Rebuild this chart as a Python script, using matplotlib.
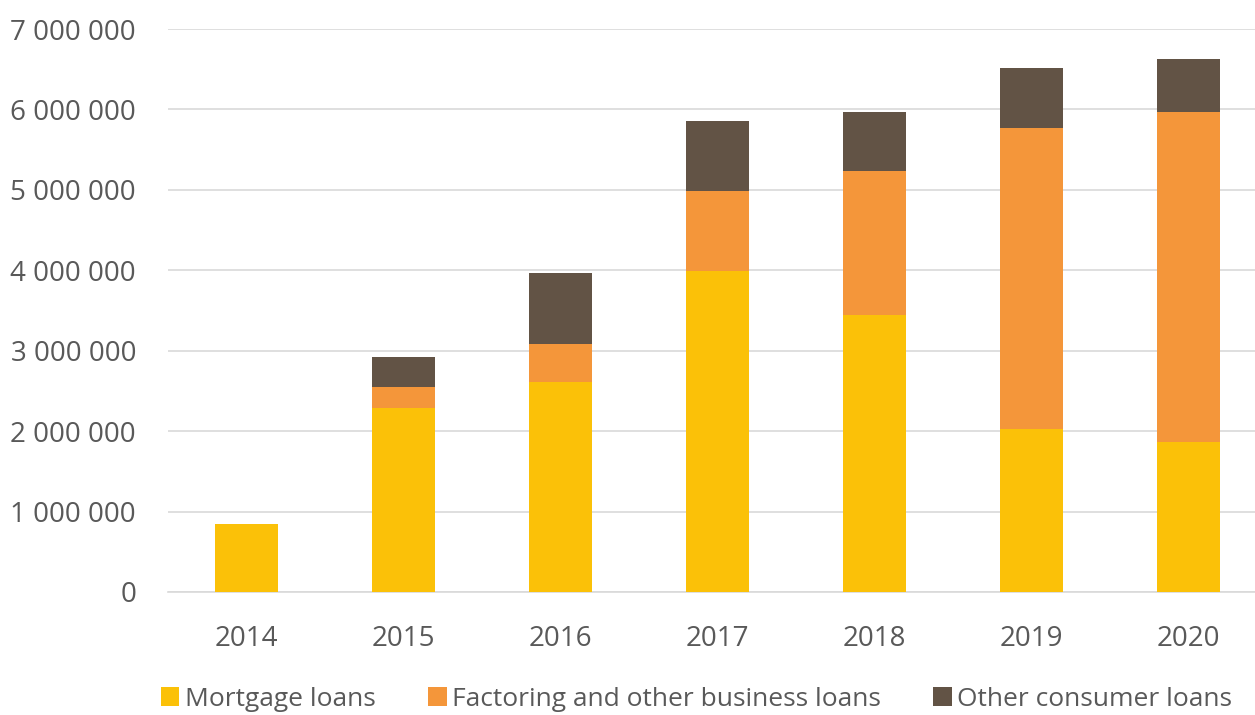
import matplotlib.pyplot as plt
from matplotlib.ticker import FuncFormatter

plt.rcParams['font.family'] = ['Open Sans', 'DejaVu Sans']

# Daten
years = ['2014', '2015', '2016', '2017', '2018', '2019', '2020']
mortgage = [845000, 2288000, 2611000, 3991000, 3444000, 2027000, 1865000]
factoring = [0, 261000, 472000, 995000, 1790000, 3742000, 4103000]
other = [0, 373000, 883000, 870000, 734000, 746000, 659000]

c_mort = '#FBC108'
c_fact = '#F4963A'
c_other = '#625345'
txt = '#595959'

fig = plt.figure(figsize=(12.55, 7.15), dpi=100)
ax = fig.add_axes([168 / 1255, 1 - 592 / 715, 1099 / 1255, (592 - 29) / 715])

x = range(len(years))
w = 0.40
bottom2 = [m + f for m, f in zip(mortgage, factoring)]
ax.bar(x, mortgage, w, color=c_mort, label='Mortgage loans', zorder=3)
ax.bar(x, factoring, w, bottom=mortgage, color=c_fact,
       label='Factoring and other business loans', zorder=3)
ax.bar(x, other, w, bottom=bottom2, color=c_other,
       label='Other consumer loans', zorder=3)

ax.set_xlim(-0.5, 6.5)
ax.set_ylim(0, 7000000)
ax.set_yticks(range(0, 7000001, 1000000))
ax.yaxis.set_major_formatter(FuncFormatter(lambda v, p: f'{int(v):,}'.replace(',', ' ')))
ax.set_xticks(list(x))
ax.set_xticklabels(years)

ax.grid(axis='y', color='#D9D9D9', linewidth=1.2, zorder=0)
for s in ['top', 'right', 'left']:
    ax.spines[s].set_visible(False)
ax.spines['bottom'].set_color('#D9D9D9')
ax.spines['bottom'].set_linewidth(1.2)
ax.tick_params(axis='both', length=0, labelsize=20, colors=txt)
ax.tick_params(axis='y', pad=23)
ax.tick_params(axis='x', pad=24)

leg = fig.legend(loc='center', bbox_to_anchor=(0.555, 0.022), ncol=3, frameon=False,
                 fontsize=19, handlelength=0.7, handleheight=0.7,
                 handletextpad=0.2, columnspacing=2.0)
for t in leg.get_texts():
    t.set_color(txt)

fig.savefig('out.png', dpi=100)
